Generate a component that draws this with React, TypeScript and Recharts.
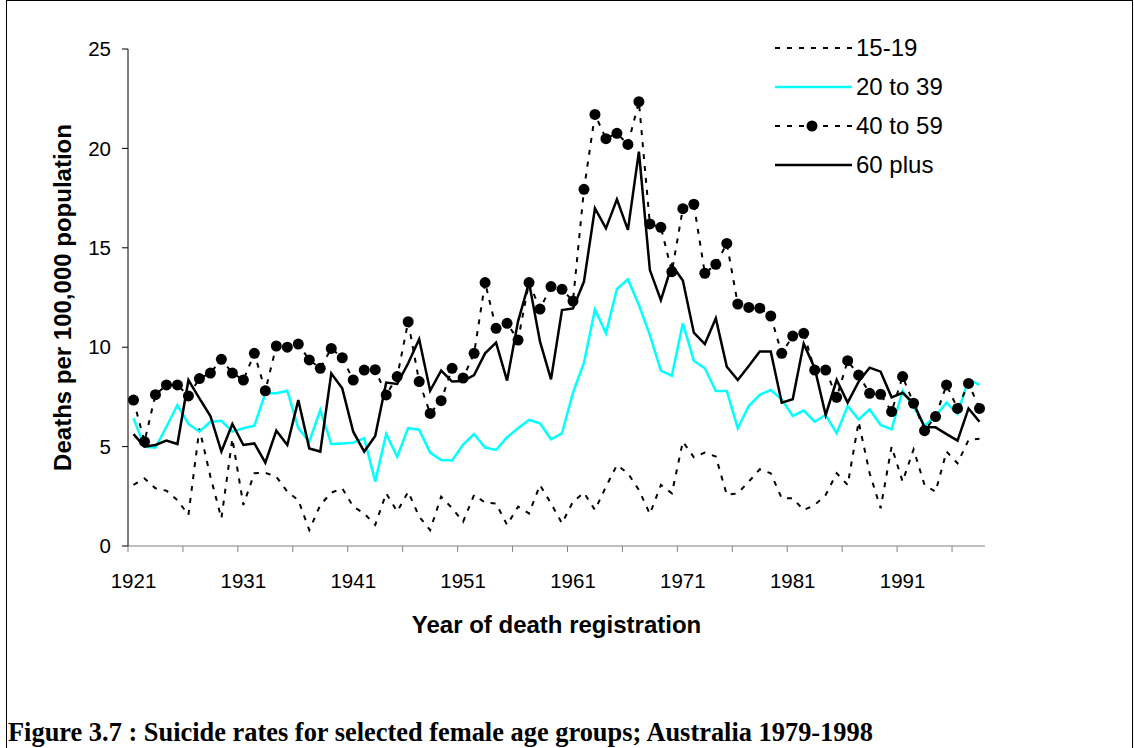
import React from "react";
import { LineChart, Line, XAxis, YAxis, Legend } from "recharts";

const YEARS: number[] = [
  1921, 1922, 1923, 1924, 1925, 1926, 1927, 1928, 1929, 1930,
  1931, 1932, 1933, 1934, 1935, 1936, 1937, 1938, 1939, 1940,
  1941, 1942, 1943, 1944, 1945, 1946, 1947, 1948, 1949, 1950,
  1951, 1952, 1953, 1954, 1955, 1956, 1957, 1958, 1959, 1960,
  1961, 1962, 1963, 1964, 1965, 1966, 1967, 1968, 1969, 1970,
  1971, 1972, 1973, 1974, 1975, 1976, 1977, 1978, 1979, 1980,
  1981, 1982, 1983, 1984, 1985, 1986, 1987, 1988, 1989, 1990,
  1991, 1992, 1993, 1994, 1995, 1996, 1997, 1998
];

const AGE_15_19: number[] = [
  3.07, 3.4, 2.9, 2.78, 2.31, 1.56, 5.9, 3.5, 1.39, 5.4,
  2.06, 3.66, 3.68, 3.49, 2.73, 2.31, 0.8, 2.06, 2.68, 2.9,
  1.98, 1.64, 1.06, 2.65, 1.73, 2.73, 1.48, 0.8, 2.48, 1.9,
  1.22, 2.57, 2.18, 2.14, 1.06, 1.98, 1.64, 3.07, 2.14, 1.14,
  2.23, 2.68, 1.81, 2.98, 4.07, 3.66, 2.82, 1.61, 3.07, 2.65,
  5.25, 4.46, 4.7, 4.5, 2.57, 2.65, 3.24, 3.86, 3.66, 2.4,
  2.4, 1.81, 2.06, 2.57, 3.66, 3.07, 6.25, 3.66, 1.9, 5.0,
  3.24, 4.86, 3.07, 2.73, 4.75, 4.16, 5.33, 5.4
];

const AGE_20_39: number[] = [
  6.42, 5.0, 4.95, 6.0, 7.09, 6.14, 5.75, 6.25, 6.3, 5.75,
  5.92, 6.05, 7.68, 7.68, 7.81, 5.93, 5.25, 6.84, 5.13, 5.16,
  5.2, 5.42, 3.24, 5.63, 4.49, 5.93, 5.85, 4.7, 4.33, 4.3,
  5.1, 5.63, 4.95, 4.83, 5.47, 5.92, 6.34, 6.17, 5.37, 5.67,
  7.71, 9.22, 11.9, 10.7, 12.93, 13.41, 12.12, 10.61, 8.82, 8.57,
  11.2, 9.32, 8.94, 7.8, 7.8, 5.92, 7.04, 7.6, 7.85, 7.38,
  6.54, 6.81, 6.25, 6.59, 5.67, 7.04, 6.37, 6.87, 6.09, 5.87,
  7.8, 7.01, 6.04, 6.54, 7.21, 6.64, 8.38, 8.1
];

const AGE_40_59: number[] = [
  7.34, 5.25, 7.61, 8.1, 8.1, 7.55, 8.42, 8.7, 9.39, 8.7,
  8.35, 9.69, 7.81, 10.06, 10.0, 10.16, 9.36, 8.94, 9.94, 9.47,
  8.35, 8.85, 8.87, 7.6, 8.52, 11.28, 8.27, 6.67, 7.31, 8.94,
  8.45, 9.69, 13.25, 10.95, 11.2, 10.36, 13.25, 11.92, 13.05, 12.91,
  12.32, 17.94, 21.71, 20.49, 20.76, 20.2, 22.35, 16.2, 16.03, 13.8,
  16.97, 17.19, 13.72, 14.17, 15.22, 12.17, 12.0, 11.96, 11.57, 9.69,
  10.56, 10.7, 8.85, 8.85, 7.48, 9.32, 8.6, 7.68, 7.63, 6.76,
  8.52, 7.18, 5.8, 6.51, 8.1, 6.92, 8.18, 6.92
];

const AGE_60_PLUS: number[] = [
  5.63, 5.0, 5.08, 5.3, 5.13, 8.35, 7.43, 6.54, 4.75, 6.14,
  5.08, 5.16, 4.19, 5.8, 5.08, 7.34, 4.91, 4.75, 8.68, 7.93,
  5.75, 4.75, 5.53, 8.22, 8.15, 9.19, 10.4, 7.81, 8.82, 8.27,
  8.3, 8.6, 9.69, 10.23, 8.32, 11.3, 13.25, 10.28, 8.38, 11.87,
  11.95, 13.3, 16.99, 15.98, 17.44, 15.9, 19.84, 13.88, 12.37, 14.13,
  13.35, 10.73, 10.16, 11.45, 9.02, 8.35, 9.05, 9.78, 9.78, 7.21,
  7.38, 10.18, 8.94, 6.59, 8.35, 7.21, 8.27, 8.97, 8.77, 7.48,
  7.71, 7.18, 5.97, 5.97, 5.63, 5.3, 6.92, 6.25
];

// labels sit on the category centres, tick marks on the boundaries (Excel style)
const X_LABELS: number[] = [1921, 1931, 1941, 1951, 1961, 1971, 1981, 1991];
const X_MARKS: number[] = [
  1920.5, 1925.5, 1930.5, 1935.5, 1940.5, 1945.5, 1950.5, 1955.5,
  1960.5, 1965.5, 1970.5, 1975.5, 1980.5, 1985.5, 1990.5, 1995.5
];
const Y_TICKS: number[] = [0, 5, 10, 15, 20, 25];

const data = YEARS.map((year, i) => ({
  year,
  a1519: AGE_15_19[i],
  a2039: AGE_20_39[i],
  a4059: AGE_40_59[i],
  a60: AGE_60_PLUS[i]
}));

const SANS = '"Liberation Sans", Arial, sans-serif';
const DASH = "5 7";

interface Series {
  key: string;
  name: string;
  color: string;
  width: number;
  dash?: string;
  dot?: boolean;
}

const SERIES: Series[] = [
  { key: "a1519", name: "15-19", color: "#000000", width: 2, dash: DASH },
  { key: "a2039", name: "20 to 39", color: "#00FFFF", width: 2.5 },
  { key: "a4059", name: "40 to 59", color: "#000000", width: 2, dash: DASH, dot: true },
  { key: "a60", name: "60 plus", color: "#000000", width: 2.5 }
];

const TICK_SIZE = 6;
const TICK_MARGIN = 21;

const XTick = (props: any) => {
  const { x, y, payload } = props;
  const v = payload.value;
  if (X_MARKS.includes(v)) {
    const top = y - TICK_SIZE - TICK_MARGIN;
    return <line x1={x} x2={x} y1={top} y2={top + TICK_SIZE} stroke="#808080" strokeWidth={1} />;
  }
  return (
    <text x={x} y={y} dy="0.71em" textAnchor="middle" fontSize={20.5} fontFamily={SANS} fill="#000">
      {v}
    </text>
  );
};

const LegendBox = (props: any) => {
  const { payload = [] } = props;
  return (
    <div style={{ fontFamily: SANS, fontSize: 24, color: "#000" }}>
      {payload.map((entry: any) => {
        const s = SERIES.find((d) => d.name === entry.value) as Series;
        return (
          <div key={entry.value} style={{ display: "flex", alignItems: "center", height: 39 }}>
            <svg width={81} height={20} style={{ display: "block" }}>
              <line x1={0} x2={77} y1={10} y2={10} stroke={s.color} strokeWidth={s.width} strokeDasharray={s.dash} />
              {s.dot && <circle cx={37} cy={10} r={5.5} fill="#000" />}
            </svg>
            <span>{entry.value}</span>
          </div>
        );
      })}
    </div>
  );
};

export default function App() {
  return (
    <div style={{ position: "absolute", left: 0, top: 0, width: 1134, height: 748, overflow: "hidden", background: "#fff" }}>
      <div style={{ position: "absolute", left: 6, top: 0, width: 1125, height: 800, border: "1px solid #000" }} />
      <div style={{ position: "absolute", left: 0, top: 0 }}>
        <LineChart width={1134} height={748} data={data} margin={{ top: 49, right: 149, left: 48, bottom: 112 }}>
          <XAxis
            dataKey="year"
            type="number"
            domain={[1920.5, 1998.5]}
            ticks={[...X_MARKS, ...X_LABELS].sort((p, q) => p - q)}
            interval={0}
            height={90}
            tickSize={TICK_SIZE}
            tickMargin={TICK_MARGIN}
            tickLine={false}
            tick={<XTick />}
            axisLine={{ stroke: "#808080", strokeWidth: 1 }}
            label={{
              value: "Year of death registration",
              position: "insideBottom",
              offset: 3,
              style: { fontFamily: SANS, fontSize: 24, fontWeight: "bold", fill: "#000" }
            }}
          />
          <YAxis
            type="number"
            domain={[0, 25]}
            ticks={Y_TICKS}
            interval={0}
            width={80}
            tickSize={TICK_SIZE}
            tickMargin={11}
            axisLine={{ stroke: "#000", strokeWidth: 1 }}
            tickLine={{ stroke: "#000" }}
            tick={{ fontSize: 20.5, fontFamily: SANS, fill: "#000" }}
            label={{
              value: "Deaths per 100,000 population",
              angle: -90,
              position: "insideLeft",
              offset: 14,
              style: { fontFamily: SANS, fontSize: 24, fontWeight: "bold", fill: "#000", textAnchor: "middle" }
            }}
          />
          <Legend
            layout="vertical"
            align="center"
            verticalAlign="middle"
            content={<LegendBox />}
            wrapperStyle={{ top: 28, left: 775, width: 220 }}
          />
          {SERIES.map((s) => (
            <Line
              key={s.key}
              type="linear"
              dataKey={s.key}
              name={s.name}
              stroke={s.color}
              strokeWidth={s.width}
              strokeDasharray={s.dash}
              dot={s.dot ? { r: 5.5, fill: "#000", stroke: "none", strokeWidth: 0 } : false}
              activeDot={false}
              isAnimationActive={false}
            />
          ))}
        </LineChart>
      </div>
      <div
        style={{
          position: "absolute",
          left: 8,
          top: 719,
          fontFamily: '"Liberation Serif", "Times New Roman", serif',
          fontWeight: "bold",
          fontSize: 26.4,
          lineHeight: "26px",
          whiteSpace: "nowrap",
          color: "#000"
        }}
      >
        Figure 3.7 : Suicide rates for selected female age groups; Australia 1979-1998
      </div>
    </div>
  );
}
